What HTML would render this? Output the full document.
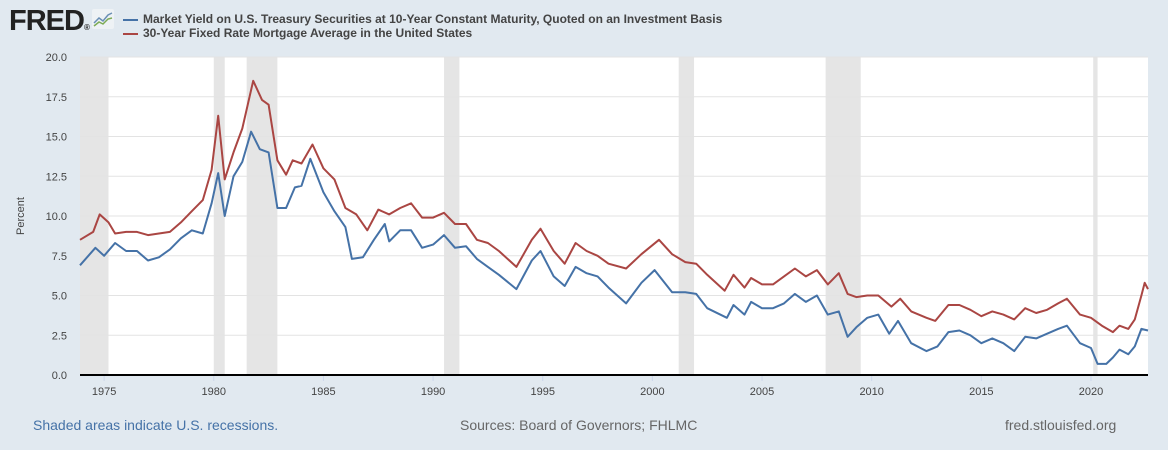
<!DOCTYPE html>
<html><head><meta charset="utf-8">
<style>
body{margin:0;width:1168px;height:450px;background:#e1e9f0;font-family:"Liberation Sans",Arial,sans-serif;overflow:hidden;position:relative}
.t{position:absolute;white-space:nowrap}
</style></head><body>
<div class="t" style="left:9px;top:5px;font-size:29px;font-weight:bold;color:#222;letter-spacing:-1px">FRED<span style="font-size:8px">®</span></div>
<svg class="t" style="left:92px;top:9px" width="22" height="20"><rect width="22" height="20" fill="#eef2f5" rx="2"/><polyline points="2,14 7,9 11,12 16,6 20,4" fill="none" stroke="#6a8fb5" stroke-width="1.5"/><polyline points="2,17 7,13 11,15 16,10 20,9" fill="none" stroke="#7cab55" stroke-width="1.5"/></svg>
<div class="t" style="left:123px;top:12px;font-size:12px;font-weight:bold;color:#444"><span style="display:inline-block;width:15px;height:2px;background:#4572a7;vertical-align:middle;margin-right:5px"></span>Market Yield on U.S. Treasury Securities at 10-Year Constant Maturity, Quoted on an Investment Basis</div>
<div class="t" style="left:123px;top:26px;font-size:12px;font-weight:bold;color:#444"><span style="display:inline-block;width:15px;height:2px;background:#aa4643;vertical-align:middle;margin-right:5px"></span>30-Year Fixed Rate Mortgage Average in the United States</div>
<svg id="chart" class="t" style="left:0;top:0" width="1168" height="450"></svg>
<div class="t" style="left:33px;top:417px;font-size:14px;color:#4572a7">Shaded areas indicate U.S. recessions.</div>
<div class="t" style="left:460px;top:417px;font-size:14px;color:#666">Sources: Board of Governors; FHLMC</div>
<div class="t" style="left:1005px;top:417px;font-size:14px;color:#666">fred.stlouisfed.org</div>
<script>
const yTicks=[0,2.5,5,7.5,10,12.5,15,17.5,20];
const xTicks=[1975,1980,1985,1990,1995,2000,2005,2010,2015,2020];
const recessions=[[1973.9,1975.2],[1980.0,1980.5],[1981.5,1982.9],[1990.5,1991.2],[2001.2,2001.9],[2007.9,2009.5],[2020.1,2020.3]];
const mortYears=[1973.9,1974.5,1974.8,1975.2,1975.5,1976,1976.5,1977,1977.5,1978,1978.5,1979,1979.5,1979.9,1980.2,1980.5,1980.9,1981.3,1981.8,1982.2,1982.5,1982.9,1983.3,1983.6,1984,1984.5,1985,1985.5,1986,1986.5,1987,1987.5,1988,1988.5,1989,1989.5,1990,1990.5,1991,1991.5,1992,1992.5,1993,1993.8,1994.5,1994.9,1995.5,1996,1996.5,1997,1997.5,1998,1998.8,1999.5,2000.3,2000.9,2001.5,2002,2002.5,2003.3,2003.7,2004.2,2004.5,2005,2005.5,2006,2006.5,2007,2007.5,2008,2008.5,2008.9,2009.3,2009.8,2010.3,2010.9,2011.3,2011.8,2012.5,2012.9,2013.5,2014,2014.5,2015,2015.5,2016,2016.5,2017,2017.5,2018,2018.5,2018.9,2019.5,2020,2020.5,2021,2021.3,2021.7,2022,2022.3,2022.45,2022.6];
const mortVals=[8.5,9.0,10.1,9.6,8.9,9.0,9.0,8.8,8.9,9.0,9.6,10.3,11.0,12.9,16.3,12.3,14.0,15.5,18.5,17.3,17.0,13.5,12.6,13.5,13.3,14.5,13.0,12.3,10.5,10.1,9.1,10.4,10.1,10.5,10.8,9.9,9.9,10.2,9.5,9.5,8.5,8.3,7.8,6.8,8.5,9.2,7.8,7.0,8.3,7.8,7.5,7.0,6.7,7.6,8.5,7.6,7.1,7.0,6.3,5.3,6.3,5.5,6.1,5.7,5.7,6.2,6.7,6.2,6.6,5.7,6.4,5.1,4.9,5.0,5.0,4.3,4.8,4.0,3.6,3.4,4.4,4.4,4.1,3.7,4.0,3.8,3.5,4.2,3.9,4.1,4.5,4.8,3.8,3.6,3.1,2.7,3.1,2.9,3.5,5.0,5.8,5.4];
const tsyYears=[1973.9,1974.6,1975,1975.5,1976,1976.5,1977,1977.5,1978,1978.5,1979,1979.5,1979.9,1980.2,1980.5,1980.9,1981.3,1981.7,1982.1,1982.5,1982.9,1983.3,1983.7,1984,1984.4,1985,1985.5,1986,1986.3,1986.8,1987.3,1987.8,1988,1988.5,1989,1989.5,1990,1990.5,1991,1991.5,1992,1992.5,1993,1993.8,1994.5,1994.9,1995.5,1996,1996.5,1997,1997.5,1998,1998.8,1999.5,2000.1,2000.9,2001.5,2002,2002.5,2003.4,2003.7,2004.2,2004.5,2005,2005.5,2006,2006.5,2007,2007.5,2008,2008.5,2008.9,2009.3,2009.8,2010.3,2010.8,2011.2,2011.8,2012.5,2013,2013.5,2014,2014.5,2015,2015.5,2016,2016.5,2017,2017.5,2018,2018.5,2018.9,2019.5,2020,2020.3,2020.7,2021,2021.3,2021.7,2022,2022.3,2022.6];
const tsyVals=[6.9,8.0,7.5,8.3,7.8,7.8,7.2,7.4,7.9,8.6,9.1,8.9,10.8,12.7,10.0,12.5,13.4,15.3,14.2,14.0,10.5,10.5,11.8,11.9,13.6,11.5,10.3,9.3,7.3,7.4,8.5,9.5,8.4,9.1,9.1,8.0,8.2,8.8,8.0,8.1,7.3,6.8,6.3,5.4,7.2,7.8,6.2,5.6,6.8,6.4,6.2,5.5,4.5,5.8,6.6,5.2,5.2,5.1,4.2,3.6,4.4,3.8,4.6,4.2,4.2,4.5,5.1,4.6,5.0,3.8,4.0,2.4,3.0,3.6,3.8,2.6,3.4,2.0,1.5,1.8,2.7,2.8,2.5,2.0,2.3,2.0,1.5,2.4,2.3,2.6,2.9,3.1,2.0,1.7,0.7,0.7,1.1,1.6,1.3,1.8,2.9,2.8];
const L=80,R=1148,T=57,B=375,X0=1973.9,X1=2022.6;
const xs=v=>L+(v-X0)/(X1-X0)*(R-L);
const ys=v=>B-v/20*(B-T);
const svg=document.getElementById('chart');
const NS='http://www.w3.org/2000/svg';
function mk(tag,attrs){const e=document.createElementNS(NS,tag);for(const k in attrs)e.setAttribute(k,attrs[k]);svg.appendChild(e);return e;}
const bg=mk('rect',{x:L,y:T,width:R-L,height:B-T,fill:'#fff'});


recessions.forEach(r=>{const e=mk('rect',{x:xs(r[0]),y:T,width:xs(r[1])-xs(r[0]),height:B-T,fill:'#e5e5e5'});

});
yTicks.forEach(v=>{const g=mk('line',{x1:L,x2:R,y1:ys(v),y2:ys(v),stroke:'#e3e3e3','stroke-width':1});


const t=mk('text',{x:67,y:ys(v)+4,'text-anchor':'end','font-size':11,fill:'#444','font-family':'Liberation Sans, sans-serif'});t.textContent=v.toFixed(1);

});
xTicks.forEach(v=>{const tk=mk('line',{x1:xs(v),x2:xs(v),y1:B,y2:B+6,stroke:'#ccd6eb'});


const t=mk('text',{x:xs(v),y:B+20,'text-anchor':'middle','font-size':11,fill:'#444','font-family':'Liberation Sans, sans-serif'});t.textContent=v;

});
const ax=mk('line',{x1:L,x2:R,y1:B,y2:B,stroke:'#000','stroke-width':2});


const yt=mk('text',{x:0,y:0,transform:'translate(24,216) rotate(-90)','text-anchor':'middle','font-size':11,fill:'#444','font-family':'Liberation Sans, sans-serif'});yt.textContent='Percent';


function line(xsArr,vals,color,name){const p=mk('polyline',{points:xsArr.map((x,i)=>xs(x).toFixed(1)+','+ys(vals[i]).toFixed(1)).join(' '),fill:'none',stroke:color,'stroke-width':2,'stroke-linejoin':'round'});

}
line(mortYears,mortVals,'#aa4643','mortgage-rate-line');
line(tsyYears,tsyVals,'#4572a7','treasury-yield-line');
</script>
</body></html>
